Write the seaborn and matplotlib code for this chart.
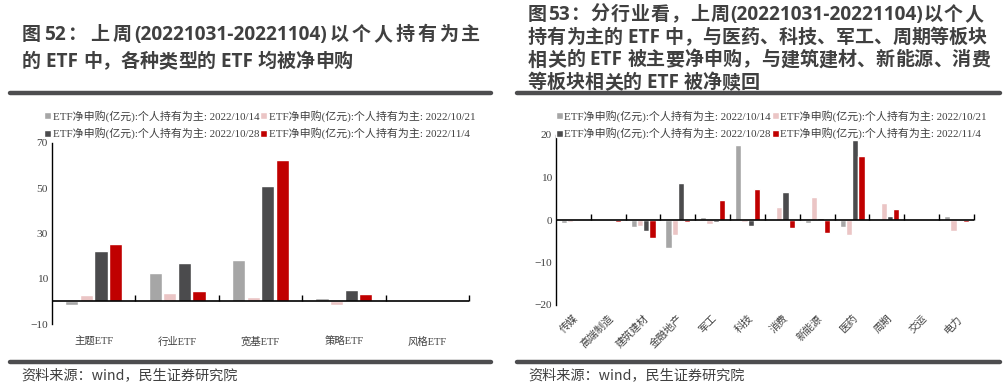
import re
import numpy as np
import pandas as pd
import matplotlib
matplotlib.use('Agg')
import matplotlib.pyplot as plt
import seaborn as sns

# Series / colours
SERIES = ['ETF净申购(亿元):个人持有为主: 2022/10/14',
          'ETF净申购(亿元):个人持有为主: 2022/10/21',
          'ETF净申购(亿元):个人持有为主: 2022/10/28',
          'ETF净申购(亿元):个人持有为主: 2022/11/4']
COLORS = ['#a6a6a6', '#ebc5c5', '#4b4b4d', '#c00000']

# Left chart: by ETF type
typeCats = ['主题ETF', '行业ETF', '宽基ETF', '策略ETF', '风格ETF']
type1014 = [-1.5, 12.6, 18.2, 1.5, 0.0]
type1021 = [2.8, 3.7, 1.9, -1.5, 0.0]
type1028 = [22.2, 16.9, 51.1, 5.0, 0.0]
type1104 = [25.3, 4.6, 62.7, 3.3, 0.6]

# Right chart: by sector
indCats = ['传媒', '高端制造', '建筑建材', '金融地产', '军工', '科技',
           '消费', '新能源', '医药', '周期', '交运', '电力']
ind1014 = [-0.8, 0.0, -1.6, -6.5, 0.8, 17.6, 0.0, -0.7, -1.6, 0.2, 0.0, 0.9]
ind1021 = [-0.4, 0.0, -1.3, -3.6, -0.9, -0.4, 3.1, 5.3, -3.5, 3.9, 0.0, -2.7]
ind1028 = [0.0, 0.0, -2.5, 8.6, -0.4, -1.3, 6.7, 0.5, 18.8, 1.0, 0.0, 0.0]
ind1104 = [0.3, -0.4, -4.2, -0.4, 4.8, 7.2, -1.8, -3.0, 15.0, 2.7, 0.0, -0.4]

# Text
leftTitle = ['图52：上周(20221031-20221104)以个人持有为主',
             '的 ETF 中，各种类型的 ETF 均被净申购']
rightTitle = ['图53：分行业看，上周(20221031-20221104)以个人',
              '持有为主的 ETF 中，与医药、科技、军工、周期等板块',
              '相关的 ETF 被主要净申购，与建筑建材、新能源、消费',
              '等板块相关的 ETF 被净赎回']
sourceText = '资料来源：wind，民生证券研究院'

sns.set_style('white')
plt.rcParams['font.family'] = ['Liberation Serif', 'Noto Sans CJK SC']
TEXT_COLOR = '#404040'
LINE_COLOR = '#4d4d4f'
TITLE_FONT = ['Open Sans', 'Noto Sans CJK SC']
W, H = 1004, 385


def toLong(cats, valueLists):
    rows = []
    for name, vals in zip(SERIES, valueLists):
        for c, v in zip(cats, vals):
            rows.append({'cat': c, 'series': name, 'value': v})
    return pd.DataFrame(rows)


def px(x0, y0, x1, y1):
    # pixel box (top-left origin) -> figure fraction rect
    return [x0 / W, 1 - y1 / H, (x1 - x0) / W, (y1 - y0) / H]


def drawPanel(fig, rect, cats, valueLists, yLim, yTicks, width, gap, rotate, legendAnchor):
    ax = fig.add_axes(rect)
    df = toLong(cats, valueLists)
    sns.barplot(data=df, x='cat', y='value', hue='series', palette=COLORS,
                width=width, gap=gap, saturation=1, ax=ax)
    handles, labels = ax.get_legend_handles_labels()
    ax.get_legend().remove()
    # row-major order with two columns
    order = [0, 2, 1, 3]
    ax.legend([handles[i] for i in order], [labels[i] for i in order],
              ncol=2, frameon=False, loc='lower left',
              bbox_to_anchor=legendAnchor, fontsize=7.9, handlelength=0.6,
              handleheight=0.6, handletextpad=0.15, columnspacing=0.1,
              labelspacing=0.5, borderpad=0, borderaxespad=0,
              labelcolor=TEXT_COLOR)
    ax.set_xlim(-0.5, len(cats) - 0.5)
    ax.set_ylim(*yLim)
    ax.set_yticks(yTicks)
    ax.set_xlabel('')
    ax.set_ylabel('')
    for s in ['top', 'right', 'bottom']:
        ax.spines[s].set_visible(False)
    ax.spines['left'].set_color('black')
    ax.spines['left'].set_linewidth(1.0)
    ax.tick_params(axis='y', direction='in', length=4, width=1, color='black',
                   labelsize=8.2, labelcolor=TEXT_COLOR, pad=3)
    ax.tick_params(axis='x', length=0, labelsize=7.5, labelcolor=TEXT_COLOR)
    if rotate:
        ax.tick_params(axis='x', pad=6)
        for t in ax.get_xticklabels():
            t.set_rotation(45)
            t.set_ha('right')
            t.set_rotation_mode('anchor')
    else:
        ax.tick_params(axis='x', pad=9)
    # zero line with category boundary ticks pointing up
    ax.axhline(0, color='black', linewidth=1.2, zorder=3)
    bounds = np.arange(len(cats)) + 0.5
    ax.plot(bounds, np.zeros_like(bounds), linestyle='none', marker=2,
            markersize=4.5, markeredgewidth=1.0, color='black', clip_on=False, zorder=3)
    return ax


fig = plt.figure(figsize=(W / 100, H / 100), dpi=100)
renderer = fig.canvas.get_renderer()


def textWidth(s, size):
    # width in px, trailing spaces kept by a guard glyph
    t = fig.text(0, 0, s + 'I', family=TITLE_FONT, fontweight='bold', fontsize=size)
    g = fig.text(0, 0, 'I', family=TITLE_FONT, fontweight='bold', fontsize=size)
    w = t.get_window_extent(renderer).width - g.get_window_extent(renderer).width
    t.remove()
    g.remove()
    return w


def drawTitle(lines, x0, yCenters, targets, baseSize=13.5):
    # font size fitted on the last (unjustified) line, other lines justified
    size = baseSize * targets[-1] / textWidth(lines[-1], baseSize)
    for line, yc, target in zip(lines, yCenters, targets):
        tokens = re.findall(r'[\x00-\x7f]+|[^\x00-\x7f]', line)
        natural = textWidth(line, size)
        extra = 0 if line is lines[-1] else (target - natural) / max(len(tokens) - 1, 1)
        pos = 0
        for i, tok in enumerate(tokens):
            prefix = ''.join(tokens[:i])
            xoff = (textWidth(prefix, size) if prefix else 0) + i * extra
            fig.text((x0 + xoff) / W, 1 - (yc + 0.37 * size * 100 / 72) / H, tok,
                     family=TITLE_FONT, fontweight='bold', fontsize=size,
                     color=TEXT_COLOR, va='baseline', ha='left')


drawPanel(fig, px(52, 143, 469, 324), typeCats,
          [type1014, type1021, type1028, type1104],
          (-10, 70), [-10, 10, 30, 50, 70], 0.7, 0.1, False, (-0.018, 1.02))
drawPanel(fig, px(556, 135, 974, 305), indCats,
          [ind1014, ind1021, ind1028, ind1104],
          (-20, 20), [-20, -10, 0, 10, 20], 0.72, 0, True, (0.0, 0.975))

# Titles
drawTitle(leftTitle, 22, [33, 60], [458, 331])
drawTitle(rightTitle, 528, [13, 35.8, 58.4, 81], [455, 459, 462, 232])

# Separator lines
for (x0, x1) in [(10, 491), (517, 1000)]:
    for y in [92.5, 361.5]:
        fig.add_artist(plt.Line2D([x0 / W, x1 / W], [1 - y / H, 1 - y / H],
                                  color=LINE_COLOR, linewidth=3.2))

# Sources
for x0 in [21, 528]:
    fig.text(x0 / W, 1 - 375 / H, sourceText, family=['Noto Sans CJK SC'],
             fontsize=10.2, color=TEXT_COLOR, va='center', ha='left')

fig.savefig('out.png', dpi=100)
